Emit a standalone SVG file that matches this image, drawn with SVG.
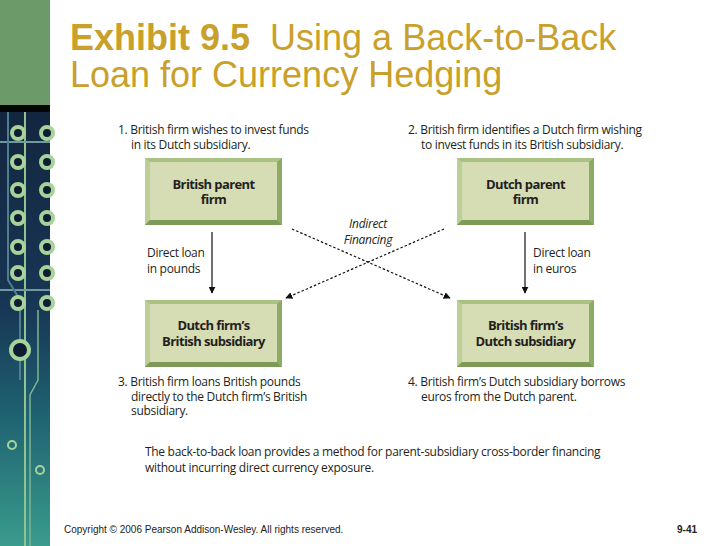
<svg xmlns="http://www.w3.org/2000/svg" xmlns:xlink="http://www.w3.org/1999/xlink" width="728" height="546" viewBox="0 0 728 546">
  <style>
    .title { font-family: "Liberation Sans", Arial, sans-serif; font-size: 36px; fill: #c9a02a; }
    .body { font-family: "Open Sans", "Liberation Sans", sans-serif; font-size: 12px; letter-spacing: -0.3px; fill: #231f20; }
    .boxt { font-family: "Open Sans", "Liberation Sans", sans-serif; font-size: 13px; letter-spacing: -0.6px; font-weight: bold; fill: #231f20; text-anchor: middle; }
    .ital { font-style: italic; text-anchor: middle; }
    .foot { font-family: "Liberation Sans", Arial, sans-serif; font-size: 10px; fill: #222; }
    .solid { stroke: #111; stroke-width: 1.2; fill: none; marker-end: url(#ah); }
    .dash { stroke: #111; stroke-width: 1.2; fill: none; stroke-dasharray: 2.5 2; marker-end: url(#ah); }
    .ring { fill: #0e1d33; stroke: #a7d39a; stroke-width: 4; }
  </style>
  <defs>
    <linearGradient id="pcb" x1="0" y1="0" x2="0" y2="1">
      <stop offset="0" stop-color="#13263f"/>
      <stop offset="0.45" stop-color="#183655"/>
      <stop offset="0.7" stop-color="#1f6272"/>
      <stop offset="1" stop-color="#3a9c8c"/>
    </linearGradient>
    <marker id="ah" viewBox="0 0 10 10" refX="9" refY="5" markerWidth="7" markerHeight="7" markerUnits="userSpaceOnUse" orient="auto">
      <path d="M0,0 L10,5 L0,10 z" fill="#111"/>
    </marker>
    <g id="box">
      <rect x="0" y="0" width="137" height="67" fill="#9fba78"/>
      <polygon points="0,0 137,0 132,4 5,4" fill="#a9c283"/>
      <polygon points="0,0 5,4 5,62 0,67" fill="#bccf98"/>
      <polygon points="0,67 5,62 132,62 137,67" fill="#7d9a57"/>
      <polygon points="137,0 137,67 132,62 132,4" fill="#8dab66"/>
      <rect x="5" y="4" width="127" height="58" fill="#d6dcb4"/>
    </g>
  </defs>

  <rect x="0" y="0" width="728" height="546" fill="#ffffff"/>

  <!-- decorative left strip -->
  <g id="strip">
    <rect x="0" y="0" width="50" height="105" fill="#6c9a68"/>
    <rect x="0" y="105" width="50" height="7" fill="#050505"/>
    <rect x="0" y="112" width="50" height="434" fill="url(#pcb)"/>
    <line x1="25" y1="112" x2="25" y2="546" stroke="#8fc48a" stroke-width="2"/>
    <line x1="0" y1="142" x2="50" y2="142" stroke="#6f9aa0" stroke-width="2"/>
    <line x1="0" y1="290" x2="50" y2="290" stroke="#6f9aa0" stroke-width="2"/>
    <path d="M8,112 L8,280 L20,300 L20,380" stroke="#4d7f8f" stroke-width="2" fill="none"/>
    <path d="M38,310 L38,380 L30,395 L30,546" stroke="#7fb58e" stroke-width="1.5" fill="none"/>
    <circle class="ring" cx="18" cy="133" r="6"/>
    <circle class="ring" cx="18" cy="162" r="6"/>
    <circle class="ring" cx="18" cy="190" r="6"/>
    <circle class="ring" cx="18" cy="218" r="6"/>
    <circle class="ring" cx="18" cy="247" r="6"/>
    <circle class="ring" cx="18" cy="273" r="6"/>
    <circle class="ring" cx="18" cy="303" r="6"/>
    <circle class="ring" cx="47" cy="133" r="6"/>
    <circle class="ring" cx="47" cy="162" r="6"/>
    <circle class="ring" cx="47" cy="190" r="6"/>
    <circle class="ring" cx="47" cy="218" r="6"/>
    <circle class="ring" cx="47" cy="247" r="6"/>
    <circle class="ring" cx="47" cy="273" r="6"/>
    <circle class="ring" cx="47" cy="303" r="6"/>
    <circle class="ring" cx="20" cy="350" r="9"/>
    <circle cx="12" cy="445" r="4" fill="none" stroke="#a7d39a" stroke-width="2"/>
    <circle cx="40" cy="470" r="4" fill="none" stroke="#a7d39a" stroke-width="2"/>
  </g>

  <!-- title -->
  <g id="title">
    <text class="title" x="70" y="50"><tspan font-weight="bold">Exhibit 9.5</tspan><tspan dx="10"> Using a Back-to-Back</tspan></text>
    <text class="title" x="70" y="87">Loan for Currency Hedging</text>
  </g>

  <!-- step captions -->
  <g id="step1">
    <text class="body" x="118" y="134">1. British firm wishes to invest funds</text>
    <text class="body" x="131" y="149">in its Dutch subsidiary.</text>
  </g>
  <g id="step2">
    <text class="body" x="408" y="134">2. British firm identifies a Dutch firm wishing</text>
    <text class="body" x="421" y="149">to invest funds in its British subsidiary.</text>
  </g>
  <g id="step3">
    <text class="body" x="118" y="386">3. British firm loans British pounds</text>
    <text class="body" x="131" y="401">directly to the Dutch firm’s British</text>
    <text class="body" x="131" y="415">subsidiary.</text>
  </g>
  <g id="step4">
    <text class="body" x="408" y="386">4. British firm’s Dutch subsidiary borrows</text>
    <text class="body" x="421" y="401">euros from the Dutch parent.</text>
  </g>

  <!-- nodes -->
  <g id="british-parent">
    <use xlink:href="#box" href="#box" x="145" y="158"/>
    <text class="boxt" x="213.5" y="189">British parent</text>
    <text class="boxt" x="213.5" y="204">firm</text>
  </g>
  <g id="dutch-parent">
    <use xlink:href="#box" href="#box" x="457" y="158"/>
    <text class="boxt" x="525.5" y="189">Dutch parent</text>
    <text class="boxt" x="525.5" y="204">firm</text>
  </g>
  <g id="dutch-firms-british-sub">
    <use xlink:href="#box" href="#box" x="145" y="300"/>
    <text class="boxt" x="213.5" y="330">Dutch firm’s</text>
    <text class="boxt" x="213.5" y="346">British subsidiary</text>
  </g>
  <g id="british-firms-dutch-sub">
    <use xlink:href="#box" href="#box" x="457" y="300"/>
    <text class="boxt" x="525.5" y="330">British firm’s</text>
    <text class="boxt" x="525.5" y="346">Dutch subsidiary</text>
  </g>

  <!-- connectors -->
  <g id="connectors">
    <line class="solid" x1="212" y1="232" x2="212" y2="293"/>
    <line class="solid" x1="525" y1="232" x2="525" y2="293"/>
    <line class="dash" x1="292" y1="229" x2="450" y2="298"/>
    <line class="dash" x1="444" y1="229" x2="286" y2="298"/>
    <text class="body" x="147" y="257">Direct loan</text>
    <text class="body" x="147" y="273">in pounds</text>
    <text class="body" x="533" y="257">Direct loan</text>
    <text class="body" x="533" y="273">in euros</text>
    <text class="body ital" x="368" y="228">Indirect</text>
    <text class="body ital" x="368" y="244">Financing</text>
  </g>

  <!-- note -->
  <g id="note">
    <text class="body" x="145" y="456">The back-to-back loan provides a method for parent-subsidiary cross-border financing</text>
    <text class="body" x="145" y="472">without incurring direct currency exposure.</text>
  </g>

  <!-- footer -->
  <g id="footer">
    <text class="foot" x="64" y="533">Copyright © 2006 Pearson Addison-Wesley. All rights reserved.</text>
    <text class="foot" x="697" y="533" font-weight="bold" text-anchor="end">9-41</text>
  </g>
</svg>
